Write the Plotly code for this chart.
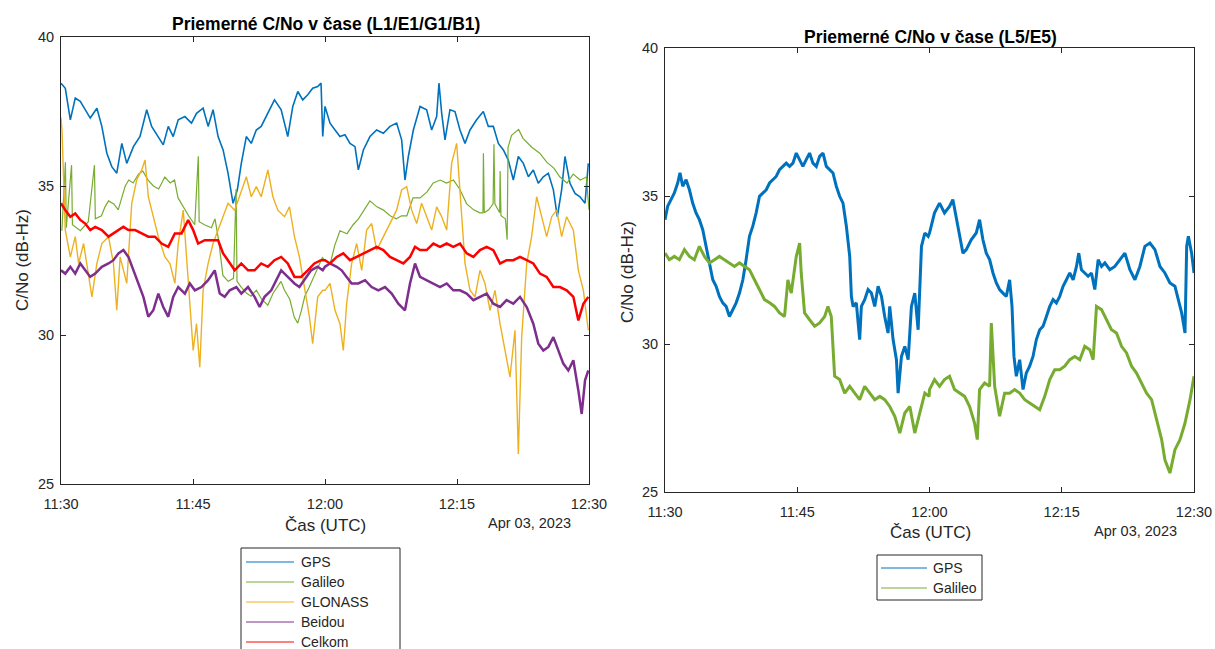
import pandas as pd
import plotly.graph_objects as go

W, H = 1215, 649
BASE = pd.Timestamp("2023-04-03 11:30:00")
FONT = "Liberation Sans, Arial, sans-serif"

# ---------------- data (minutes after 11:30 UTC, C/No in dB-Hz) ----------------
x_tick_minutes = [0, 15, 30, 45, 60]
x_tick_labels = ["11:30", "11:45", "12:00", "12:15", "12:30"]
y_ticks = [25, 30, 35, 40]

# Left panel: L1/E1/G1/B1
t_gps_l1 = [0, 0.49, 1.06, 1.62, 2.19, 2.75, 3.32, 4.08, 4.64, 5.21,
            5.77, 6.34, 6.91, 7.47, 8.23, 8.98, 9.74, 10.30, 11.06, 11.62,
            12.19, 12.75, 13.32, 14.08, 14.83, 15.40, 16.15, 16.72, 17.28, 17.85,
            18.42, 18.98, 19.55, 20.04, 20.49, 21.06, 21.62, 22.19, 22.75, 23.51,
            24.26, 25.02, 25.77, 26.34, 26.91, 27.47, 28.04, 28.60, 29.17, 29.55,
            29.74, 30.0, 30.57, 31.14, 31.70, 32.27, 32.84, 33.41, 33.79, 34.36,
            35.11, 35.87, 36.63, 37.39, 38.14, 38.71, 39.09, 39.47, 40.04, 40.80,
            41.55, 42.12, 42.69, 42.95, 43.26, 43.64, 44.20, 44.77, 45.34, 45.91,
            46.48, 47.23, 47.99, 48.56, 49.13, 49.70, 50.27, 50.83, 51.40, 51.97,
            52.54, 53.11, 53.67, 54.24, 54.81, 55.38, 55.95, 56.40, 56.89, 57.27,
            57.84, 58.41, 58.98, 59.55, 59.92]
v_gps_l1 = [38.45, 38.28, 37.22, 37.95, 37.84, 37.56, 37.28, 37.61, 37.00, 36.10,
            35.65, 35.43, 36.43, 35.76, 36.32, 36.66, 37.56, 37.00, 36.66, 36.38,
            37.00, 36.66, 37.22, 37.33, 37.11, 37.44, 37.61, 37.00, 37.56, 36.66,
            36.21, 35.43, 34.42, 34.87, 35.76, 36.66, 36.43, 36.88, 37.00, 37.44,
            37.89, 37.56, 36.66, 37.67, 38.17, 37.89, 38.06, 38.28, 38.34, 38.45,
            36.66, 37.67, 37.11, 36.88, 36.66, 36.72, 36.43, 36.32, 35.54, 36.21,
            36.66, 36.88, 36.77, 37.00, 37.11, 36.55, 35.20, 35.99, 36.88, 37.67,
            37.56, 36.88, 37.33, 38.45, 37.44, 36.55, 37.56, 37.50, 36.88, 36.43,
            36.88, 37.22, 37.50, 37.00, 37.00, 36.43, 36.21, 35.87, 35.20, 35.99,
            35.76, 35.31, 35.54, 35.09, 35.31, 35.43, 34.87, 33.97, 34.87, 35.99,
            35.09, 34.75, 34.64, 34.42, 35.76]

t_gal_l1 = [0.1, 0.5, 0.6, 1.2, 1.3, 2.2, 3.1, 3.8, 3.9, 4.6,
            5.0, 5.4, 6.0, 6.5, 6.9, 7.3, 7.7, 8.2, 8.8, 9.3,
            9.9, 10.5, 11.1, 11.8, 12.4, 12.9, 13.3, 13.9, 14.5, 15.2,
            15.6, 15.7, 16.3, 17.1, 17.5, 17.9, 18.4, 19.0, 19.6, 19.9,
            20.0, 20.5, 21.1, 21.6, 22.2, 22.8, 23.5, 24.1, 24.6, 25.0,
            25.4, 26.0, 26.5, 26.9, 27.3, 27.7, 28.2, 28.8, 29.2, 29.7,
            30.0, 30.6, 31.1, 31.7, 32.5, 33.2, 33.8, 34.5, 35.1, 35.9,
            36.6, 37.4, 38.1, 38.7, 39.3, 40.0, 40.8, 41.6, 42.3, 43.1,
            43.8, 44.6, 45.3, 46.1, 46.9, 47.6, 47.95, 48.0, 48.1, 48.6,
            49.1, 49.2, 49.3, 49.85, 49.9, 50.0, 50.5, 50.7, 50.8, 51.2,
            51.6, 52.0, 52.5, 53.5, 54.4, 55.2, 56.0, 56.7, 57.5, 58.2,
            59.0, 59.7, 60.0]
v_gal_l1 = [33.5, 35.8, 33.6, 35.7, 33.7, 33.5, 33.8, 35.7, 33.9, 34.0,
            34.3, 34.5, 34.4, 34.2, 34.6, 35.0, 35.2, 35.1, 35.4, 35.5,
            35.2, 35.0, 34.9, 35.3, 35.1, 35.2, 34.6, 34.3, 34.0, 33.7,
            36.0, 33.8, 33.7, 33.6, 33.9, 33.2, 32.0, 31.8, 31.9, 34.9,
            31.8, 31.6, 31.4, 31.3, 31.5, 31.2, 31.0, 31.4, 31.6, 31.8,
            31.5, 31.2, 30.6, 30.4, 30.8, 31.3, 31.6, 32.0, 32.3, 32.6,
            32.5, 32.4, 33.0, 33.5, 33.4, 33.7, 33.9, 34.2, 34.5, 34.3,
            34.2, 34.0, 33.9, 34.0, 34.0, 34.6, 34.6, 34.8, 35.1, 35.2,
            35.1, 35.2, 34.9, 34.4, 34.2, 34.1, 34.1, 36.1, 34.1, 34.2,
            34.4, 36.4, 34.4, 34.1, 35.5, 34.0, 33.9, 33.2, 36.3, 36.7,
            36.8, 36.9, 36.6, 36.3, 36.1, 35.8, 35.6, 35.3, 35.1, 35.4,
            35.2, 35.3, 34.2]

t_glo_l1 = [0.0, 0.11, 0.49, 1.06, 1.62, 2.0, 2.57, 3.13, 3.51, 4.08,
            4.64, 5.40, 5.96, 6.34, 6.72, 7.47, 8.04, 8.60, 9.17, 9.55,
            9.92, 10.49, 11.06, 11.81, 12.38, 12.94, 13.32, 13.89, 14.45, 15.02,
            15.40, 15.77, 16.15, 16.72, 17.28, 17.85, 18.42, 18.98, 19.74, 20.49,
            21.06, 21.62, 22.19, 22.75, 23.51, 24.08, 24.64, 25.40, 25.96, 26.53,
            27.09, 27.66, 28.23, 28.60, 29.17, 29.74, 30.0, 30.57, 31.14, 31.70,
            32.08, 32.46, 33.03, 33.60, 34.17, 34.73, 35.30, 35.87, 36.63, 37.39,
            38.14, 38.71, 39.28, 39.85, 40.42, 40.98, 41.55, 42.12, 42.69, 43.26,
            43.83, 44.39, 44.96, 45.34, 45.91, 46.48, 47.05, 47.61, 48.18, 48.75,
            49.32, 49.89, 50.45, 51.02, 51.59, 51.97, 52.35, 52.92, 53.48, 54.05,
            54.62, 55.19, 55.76, 56.33, 56.89, 57.46, 58.22, 58.79, 59.36, 59.92]
v_glo_l1 = [37.3, 36.88, 33.52, 32.62, 33.30, 32.40, 33.07, 31.95, 31.28, 32.40,
            33.07, 33.30, 32.40, 30.83, 32.62, 31.73, 34.42, 35.20, 35.54, 35.87,
            34.64, 33.97, 33.30, 32.62, 32.40, 31.73, 33.07, 34.19, 31.95, 29.48,
            30.38, 28.92, 31.50, 32.40, 33.07, 33.52, 33.97, 34.42, 34.19, 34.87,
            35.31, 34.64, 34.98, 34.64, 35.54, 34.64, 34.19, 33.97, 34.30, 33.30,
            32.62, 31.61, 30.61, 29.71, 31.28, 31.50, 31.50, 31.73, 30.83, 30.38,
            29.48, 31.05, 32.40, 33.07, 32.17, 33.52, 33.74, 32.85, 33.30, 33.74,
            34.19, 34.87, 34.98, 34.19, 33.74, 34.42, 33.97, 33.52, 34.30, 33.97,
            33.52, 35.76, 36.43, 34.87, 32.40, 31.50, 31.28, 32.17, 31.73, 30.83,
            31.50, 30.38, 29.48, 28.59, 30.16, 26.01, 29.93, 32.40, 33.30, 34.64,
            33.97, 33.30, 33.97, 34.19, 33.30, 33.97, 33.52, 32.17, 31.50, 30.16]

t_bds_b1 = [0.0, 0.49, 1.06, 1.62, 2.19, 2.75, 3.32, 3.89, 4.64, 5.40,
            5.96, 6.53, 7.09, 7.66, 8.23, 8.79, 9.36, 9.92, 10.49, 11.06,
            11.62, 12.19, 12.75, 13.32, 14.08, 14.64, 15.21, 15.96, 16.72, 17.47,
            18.04, 18.60, 19.17, 19.92, 20.49, 21.25, 22.0, 22.57, 23.13, 23.89,
            24.45, 25.02, 25.77, 26.53, 27.09, 27.66, 28.42, 29.17, 29.74, 30.0,
            30.57, 31.33, 31.89, 32.46, 33.03, 33.79, 34.55, 35.30, 36.06, 36.82,
            37.58, 38.33, 39.09, 39.66, 40.23, 40.80, 41.55, 42.31, 43.07, 43.83,
            44.58, 45.34, 46.10, 46.86, 47.61, 48.37, 49.13, 49.89, 50.64, 51.40,
            52.16, 52.92, 53.67, 54.24, 54.81, 55.38, 55.95, 56.52, 57.08, 57.65,
            58.22, 58.79, 59.17, 59.55, 59.92]
v_bds_b1 = [32.17, 32.06, 32.29, 32.06, 32.40, 32.17, 31.95, 32.06, 32.29, 32.40,
            32.51, 32.74, 32.85, 32.62, 32.17, 31.73, 31.28, 30.61, 30.83, 31.39,
            30.94, 30.61, 31.28, 31.61, 31.39, 31.73, 31.50, 31.61, 31.84, 32.17,
            31.39, 31.28, 31.50, 31.61, 31.39, 31.61, 31.28, 30.94, 31.28, 31.50,
            31.84, 32.17, 31.95, 31.73, 31.61, 31.84, 32.17, 32.29, 32.17, 32.29,
            32.40, 32.29, 32.17, 31.95, 31.73, 31.73, 31.84, 31.61, 31.50, 31.61,
            31.39, 31.05, 30.83, 31.73, 32.40, 31.95, 31.84, 31.73, 31.61, 31.73,
            31.50, 31.50, 31.39, 31.17, 31.28, 31.39, 31.05, 30.94, 31.17, 31.05,
            31.28, 30.94, 30.38, 29.71, 29.48, 29.60, 29.93, 29.48, 29.04, 28.81,
            29.15, 28.14, 27.35, 28.48, 28.81]

t_all_l1 = [0.0, 0.49, 1.06, 1.62, 2.19, 2.75, 3.32, 3.89, 4.64, 5.40,
            5.96, 6.53, 7.09, 7.66, 8.42, 9.17, 9.92, 10.68, 11.43, 12.19,
            12.94, 13.70, 14.45, 15.02, 15.58, 16.34, 17.09, 17.85, 18.42, 18.98,
            19.74, 20.49, 21.25, 22.0, 22.75, 23.51, 24.26, 25.02, 25.77, 26.53,
            27.28, 28.04, 28.79, 29.55, 30.0, 30.57, 31.33, 32.08, 32.84, 33.60,
            34.36, 35.11, 35.87, 36.63, 37.39, 38.14, 38.90, 39.66, 40.23, 40.80,
            41.55, 42.31, 43.07, 43.83, 44.58, 45.34, 46.10, 46.86, 47.61, 48.37,
            49.13, 49.89, 50.64, 51.40, 52.16, 52.92, 53.67, 54.43, 55.19, 55.95,
            56.70, 57.46, 58.22, 58.79, 59.36, 59.92]
v_all_l1 = [34.42, 34.19, 33.97, 34.08, 33.86, 33.74, 33.52, 33.63, 33.52, 33.30,
            33.41, 33.52, 33.63, 33.52, 33.52, 33.41, 33.30, 33.30, 33.07, 32.96,
            33.41, 33.41, 33.86, 33.52, 33.07, 33.18, 33.18, 33.18, 32.74, 32.51,
            32.17, 32.40, 32.17, 32.17, 32.40, 32.29, 32.51, 32.62, 32.40, 31.95,
            31.95, 32.17, 32.40, 32.51, 32.51, 32.40, 32.62, 32.74, 32.51, 32.62,
            32.74, 32.85, 32.96, 32.85, 32.62, 32.51, 32.40, 32.62, 32.96, 32.85,
            32.85, 33.07, 32.96, 33.07, 32.96, 33.07, 32.74, 32.62, 32.85, 32.96,
            32.85, 32.40, 32.51, 32.51, 32.62, 32.51, 32.40, 32.06, 31.95, 31.61,
            31.61, 31.50, 31.28, 30.49, 31.05, 31.28]

# Right panel: L5/E5
t_gps_l5 = [0, 0.30, 0.68, 1.06, 1.44, 1.70, 2.01, 2.39, 2.77, 3.14,
            3.52, 3.90, 4.28, 4.66, 5.04, 5.42, 5.80, 6.17, 6.55, 6.93,
            7.31, 7.69, 8.07, 8.45, 8.83, 9.20, 9.58, 9.96, 10.34, 10.72,
            11.10, 11.48, 11.86, 12.23, 12.61, 12.99, 13.37, 13.75, 14.13, 14.51,
            14.89, 15.27, 15.64, 16.02, 16.40, 16.78, 17.16, 17.54, 17.92, 18.30,
            18.67, 19.05, 19.43, 19.81, 20.19, 20.57, 20.95, 21.14, 21.33, 21.70,
            22.08, 22.27, 22.65, 23.03, 23.41, 23.79, 24.17, 24.55, 24.92, 25.30,
            25.49, 25.87, 26.25, 26.44, 26.82, 27.20, 27.58, 27.95, 28.33, 28.71,
            29.09, 29.47, 29.85,
            30.0, 30.57, 31.14, 31.70, 32.27, 32.65, 33.03, 33.41, 33.79, 34.17,
            34.73, 35.30, 35.68, 36.06, 36.44, 36.82, 37.20, 37.58, 37.95, 38.33,
            38.71, 39.09, 39.36, 39.58, 39.85, 40.23, 40.61, 40.98, 41.36, 41.74,
            42.12, 42.50, 42.88, 43.26, 43.64, 44.02, 44.39, 44.77, 45.15, 45.53,
            45.91, 46.29, 46.67, 46.93, 47.23, 47.61, 47.99, 48.37, 48.75, 49.13,
            49.51, 49.89, 50.45, 51.02, 51.59, 52.16, 52.73, 53.30, 53.86, 54.43,
            55.0, 55.57, 56.14, 56.70, 57.27, 57.84, 58.22, 58.60, 58.98, 59.17,
            59.36, 59.73, 60.0]
v_gps_l5 = [34.20, 34.65, 34.88, 35.10, 35.44, 35.78, 35.33, 35.55, 35.21, 34.76,
            34.43, 34.20, 33.86, 33.30, 32.85, 32.17, 31.95, 31.61, 31.39, 31.27,
            30.93, 31.16, 31.39, 31.72, 32.17, 32.85, 33.64, 33.98, 34.43, 34.99,
            35.10, 35.21, 35.44, 35.55, 35.66, 35.89, 36.00, 36.11, 36.00, 36.11,
            36.45, 36.23, 36.00, 36.23, 36.45, 36.11, 36.00, 36.34, 36.45, 36.00,
            35.89, 35.78, 35.33, 34.99, 34.76, 33.98, 32.96, 31.61, 31.27, 31.39,
            30.15, 31.27, 31.50, 31.84, 31.72, 31.27, 31.95, 31.61, 30.93, 30.37,
            31.27, 30.15, 29.47, 28.34, 29.58, 29.92, 29.47, 31.27, 31.72, 30.48,
            33.30, 33.75, 33.64,
            33.75, 34.43, 34.76, 34.43, 34.65, 34.88, 34.31, 33.75, 33.07, 33.19,
            33.52, 33.75, 34.20, 33.52, 33.07, 32.85, 32.40, 32.06, 31.84, 31.72,
            31.61, 32.17, 31.27, 29.58, 28.91, 29.47, 28.46, 29.02, 29.25, 29.58,
            30.15, 30.48, 30.60, 30.93, 31.27, 31.50, 31.39, 31.61, 31.95, 32.17,
            32.40, 32.17, 32.62, 33.07, 32.51, 32.40, 32.29, 32.40, 31.84, 32.85,
            32.62, 32.74, 32.51, 32.62, 32.85, 33.07, 32.51, 32.17, 32.62, 33.30,
            33.41, 33.19, 32.62, 32.40, 32.06, 31.95, 31.50, 31.05, 30.37, 33.30,
            33.64, 33.07, 32.40]

t_gal_e5 = [0, 0.49, 1.06, 1.63, 2.20, 2.77, 3.33, 3.90, 4.47, 5.04,
            5.61, 6.17, 6.74, 7.31, 7.88, 8.45, 9.02, 9.58, 10.15, 10.72,
            11.29, 11.86, 12.42, 12.99, 13.56, 13.94, 14.32, 14.89, 15.27, 15.45,
            15.83, 16.40, 16.97, 17.54, 18.11, 18.48, 18.86, 19.24, 19.81, 20.38,
            20.95, 21.52, 22.08, 22.65, 23.22, 23.79, 24.36, 24.92, 25.49, 26.06,
            26.63, 27.20, 27.77, 28.33, 28.90, 29.47, 29.96,
            30.0, 30.57, 31.14, 31.70, 32.27, 32.84, 33.41, 33.98, 34.55, 35.11,
            35.42, 35.68, 36.25, 36.82, 37.01, 37.39, 37.95, 38.52, 39.09, 39.66,
            40.23, 40.80, 41.36, 41.93, 42.50, 43.07, 43.64, 44.20, 44.77, 45.34,
            45.91, 46.48, 47.05, 47.61, 48.18, 48.56, 48.94, 49.51, 50.08, 50.64,
            51.21, 51.78, 52.35, 52.92, 53.48, 54.05, 54.62, 55.19, 55.76, 56.33,
            56.70, 57.27, 57.84, 58.41, 58.98, 59.55, 60.0]
v_gal_e5 = [33.07, 32.85, 32.96, 32.85, 33.19, 32.96, 32.85, 33.30, 32.96, 32.74,
            32.85, 32.96, 32.85, 32.74, 32.62, 32.74, 32.62, 32.51, 32.17, 31.84,
            31.50, 31.39, 31.27, 31.05, 30.93, 32.17, 31.72, 32.96, 33.41, 32.40,
            31.05, 30.82, 30.60, 30.71, 30.93, 31.27, 30.93, 28.91, 28.80, 28.34,
            28.57, 28.34, 28.12, 28.57, 28.34, 28.12, 28.23, 28.12, 27.89, 27.56,
            26.99, 27.67, 27.89, 26.99, 27.67, 28.34, 28.23,
            28.46, 28.80, 28.57, 28.80, 28.91, 28.46, 28.34, 28.23, 27.89, 27.33,
            26.77, 28.46, 28.68, 28.57, 30.71, 28.57, 27.56, 28.34, 28.34, 28.46,
            28.34, 28.12, 28.01, 27.89, 27.78, 28.23, 28.80, 29.13, 29.13, 29.25,
            29.47, 29.58, 29.47, 29.92, 29.81, 29.47, 31.27, 31.16, 30.82, 30.48,
            30.37, 29.92, 29.70, 29.25, 29.02, 28.68, 28.34, 28.12, 27.44, 26.77,
            26.09, 25.64, 26.43, 26.77, 27.33, 28.12, 28.91]

left_series = [
    ("GPS", t_gps_l1, v_gps_l1, "#0072BD", 1.6),
    ("Galileo", t_gal_l1, v_gal_l1, "#77AC30", 1.2),
    ("GLONASS", t_glo_l1, v_glo_l1, "#EDB120", 1.4),
    ("Beidou", t_bds_b1, v_bds_b1, "#7E2F8E", 2.5),
    ("Celkom", t_all_l1, v_all_l1, "#FF0000", 2.5),
]
right_series = [
    ("GPS", t_gps_l5, v_gps_l5, "#0072BD", 3),
    ("Galileo", t_gal_e5, v_gal_e5, "#77AC30", 3),
]
for _, t, v, _, _ in left_series + right_series:
    assert len(t) == len(v), (len(t), len(v))


def to_time(mins):
    return [BASE + pd.Timedelta(minutes=m) for m in mins]


fig = go.Figure()
for name, t, v, col, lw in left_series:
    fig.add_trace(go.Scatter(x=to_time(t), y=v, mode="lines", name=name,
                             line=dict(color=col, width=lw), xaxis="x", yaxis="y",
                             showlegend=False))
for name, t, v, col, lw in right_series:
    fig.add_trace(go.Scatter(x=to_time(t), y=v, mode="lines", name=name,
                             line=dict(color=col, width=lw), xaxis="x2", yaxis="y2",
                             showlegend=False))

AX = "#262626"
common = dict(showline=True, linecolor=AX, linewidth=1, mirror="ticks", ticks="inside",
              ticklen=5, tickcolor=AX, showgrid=False, zeroline=False, automargin=False,
              tickfont=dict(family=FONT, size=14.5, color=AX))
xr = [BASE, BASE + pd.Timedelta(minutes=60)]
tickvals = to_time(x_tick_minutes)


def px(x):
    return x / W


def py(y):
    return 1 - y / H


fig.update_layout(
    width=W, height=H, margin=dict(l=0, r=0, t=0, b=0, pad=0, autoexpand=False),
    paper_bgcolor="white", plot_bgcolor="white", showlegend=False,
    xaxis=dict(domain=[px(61), px(589)], anchor="y", type="date", range=xr,
               tickvals=tickvals, ticktext=x_tick_labels, ticklabelstandoff=7, **common),
    yaxis=dict(domain=[py(484), py(37)], anchor="x", range=[25, 40], tickvals=y_ticks,
               ticklabelstandoff=3, **common),
    xaxis2=dict(domain=[px(665), px(1194)], anchor="y2", type="date", range=xr,
                tickvals=tickvals, ticktext=x_tick_labels, ticklabelstandoff=7, **common),
    yaxis2=dict(domain=[py(492), py(48)], anchor="x2", range=[25, 40], tickvals=y_ticks,
                ticklabelstandoff=3, **common),
)

ann = []


def text(x, y, s, size, bold=False, xanchor="center", angle=0, color=AX):
    ann.append(dict(x=px(x), y=py(y), xref="paper", yref="paper", text=f"<b>{s}</b>" if bold else s,
                    showarrow=False, xanchor=xanchor, yanchor="middle", textangle=angle,
                    font=dict(family=FONT, size=size, color=color)))


text(326, 24, "Priemerné C/No v čase (L1/E1/G1/B1)", 17.5, bold=True, color="black")
text(930, 37, "Priemerné C/No v čase (L5/E5)", 17.5, bold=True, color="black")
text(325, 525, "Čas (UTC)", 17)
text(930, 532, "Čas (UTC)", 17)
text(529, 523, "Apr 03, 2023", 14.5)
text(1135, 531, "Apr 03, 2023", 14.5)
text(22, 260, "C/No (dB-Hz)", 17, angle=-90)
text(627, 272, "C/No (dB-Hz)", 17, angle=-90)

shapes = []


def legend(box, rows, series, x_line, x_text):
    x0, x1, y0, y1 = box
    shapes.append(dict(type="rect", xref="paper", yref="paper", x0=px(x0), x1=px(x1),
                       y0=py(y1), y1=py(y0), line=dict(color=AX, width=1), fillcolor="white",
                       layer="above"))
    for yy, (name, _, _, col, _) in zip(rows, series):
        shapes.append(dict(type="line", xref="paper", yref="paper", x0=px(x_line[0]),
                           x1=px(x_line[1]), y0=py(yy), y1=py(yy),
                           line=dict(color=col, width=1), layer="above"))
        text(x_text, yy, name, 14, xanchor="left")


legend((241, 400, 548, 670), [562, 582, 602, 622, 642], left_series, (246, 294), 299)
legend((877, 982, 555, 600), [568, 588], right_series, (881, 927), 931)

fig.update_layout(annotations=ann, shapes=shapes)
fig.write_html("out.html")
